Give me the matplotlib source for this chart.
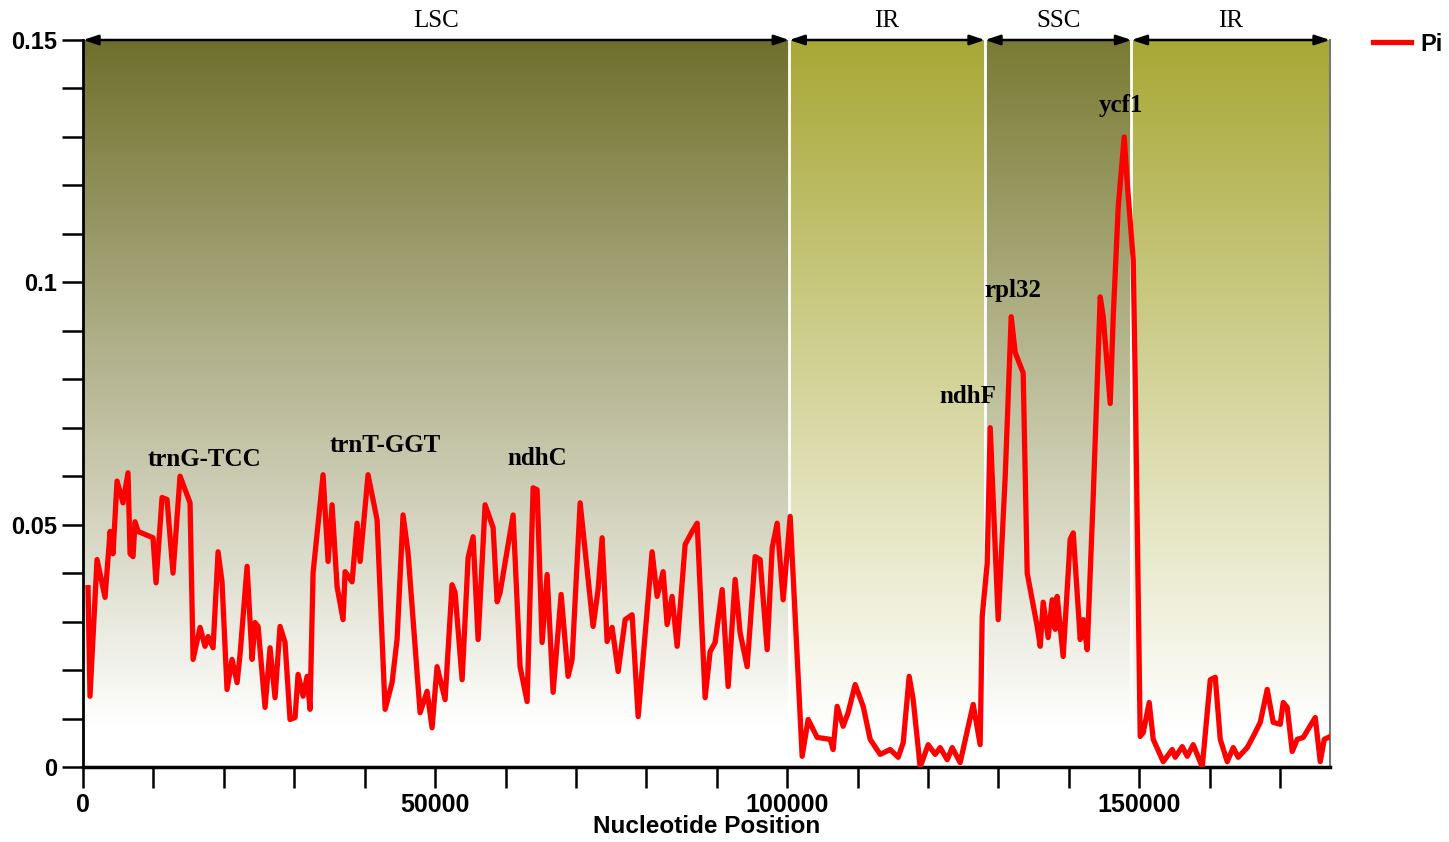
import numpy as np
import matplotlib
matplotlib.use('Agg')
import matplotlib.pyplot as plt
from matplotlib.colors import to_rgb

# sliding window nucleotide diversity (position in kb, Pi)
pos_kb = [0.71, 0.99, 1.99, 3.13, 3.84, 4.26, 4.83, 5.68, 6.39, 6.68, 7.10, 7.39, 7.81,
          9.94, 10.37, 11.22, 11.93, 12.78, 13.78, 15.20, 15.63, 16.62, 17.33, 17.76,
          18.47, 19.18, 19.74, 20.45, 21.16, 21.88, 22.30, 23.30, 24.01, 24.43, 24.86,
          25.85, 26.56, 27.27, 27.98, 28.69, 29.40, 30.11, 30.54, 31.25, 31.82, 32.24,
          32.67, 34.09, 34.80, 35.37, 36.08, 36.93, 37.22, 38.21, 38.92, 39.35, 40.48,
          41.76, 42.90, 43.89, 44.60, 45.45, 46.16, 47.87, 48.86, 49.57, 50.28, 51.42,
          52.41, 52.84, 53.84, 54.69, 55.40, 56.11, 57.10, 58.24, 58.81, 59.23, 61.08,
          62.07, 63.07, 63.92, 64.49, 65.20, 65.91, 66.76, 67.90, 68.89, 69.46, 70.60,
          72.44, 73.15, 73.72, 74.43, 75.14, 76.00, 76.99, 77.98, 78.84, 80.82, 81.53,
          82.39, 82.95, 83.66, 84.38, 85.51, 86.51, 87.22, 88.35, 89.06, 89.77, 90.77,
          91.62, 92.61, 93.32, 94.32, 95.45, 96.16, 97.16, 97.87, 98.58, 99.43, 100.43,
          102.13, 102.98, 104.26, 106.11, 106.53, 107.10, 107.95, 108.66, 109.66, 110.80,
          111.79, 113.21, 114.63, 115.77, 116.48, 117.33, 117.90, 118.89, 120.03, 121.02,
          121.73, 122.73, 123.44, 124.57, 126.42, 127.41, 127.70, 128.41, 128.84, 129.97,
          130.97, 131.82, 132.39, 133.52, 134.09, 135.51, 135.94, 136.36, 137.07, 137.64,
          138.07, 138.35, 139.20, 140.20, 140.63, 141.62, 142.05, 142.61, 143.47, 144.46,
          144.89, 145.88, 146.31, 147.02, 147.87, 148.30, 149.15, 149.43, 150.14, 150.57,
          151.42, 151.99, 153.41, 154.69, 155.11, 156.11, 156.82, 157.67, 158.95, 160.09,
          160.80, 161.51, 162.50, 163.35, 164.06, 165.34, 166.19, 167.19, 168.18, 169.03,
          170.03, 170.45, 171.02, 171.73, 172.44, 173.30, 174.57, 175.00, 175.71, 176.28,
          176.85]
pi = [0.0370, 0.0146, 0.0428, 0.0350, 0.0486, 0.0440, 0.0590, 0.0545, 0.0607, 0.0440,
      0.0434, 0.0506, 0.0486, 0.0473, 0.0380, 0.0556, 0.0552, 0.0400, 0.0600, 0.0545,
      0.0222, 0.0288, 0.0249, 0.0269, 0.0246, 0.0444, 0.0382, 0.0160, 0.0222, 0.0174,
      0.0232, 0.0414, 0.0222, 0.0298, 0.0290, 0.0123, 0.0246, 0.0143, 0.0290, 0.0257,
      0.0098, 0.0102, 0.0191, 0.0146, 0.0187, 0.0119, 0.0400, 0.0603, 0.0424, 0.0541,
      0.0372, 0.0304, 0.0403, 0.0382, 0.0503, 0.0424, 0.0603, 0.0510, 0.0119, 0.0174,
      0.0263, 0.0520, 0.0442, 0.0112, 0.0156, 0.0081, 0.0207, 0.0139, 0.0376, 0.0360,
      0.0180, 0.0432, 0.0475, 0.0263, 0.0541, 0.0494, 0.0341, 0.0360, 0.0520, 0.0207,
      0.0135, 0.0576, 0.0572, 0.0257, 0.0397, 0.0154, 0.0356, 0.0187, 0.0222, 0.0545,
      0.0290, 0.0366, 0.0473, 0.0259, 0.0288, 0.0197, 0.0304, 0.0314, 0.0104, 0.0444,
      0.0352, 0.0403, 0.0294, 0.0352, 0.0249, 0.0459, 0.0486, 0.0503, 0.0143, 0.0238,
      0.0257, 0.0366, 0.0166, 0.0387, 0.0277, 0.0207, 0.0434, 0.0428, 0.0242, 0.0452,
      0.0503, 0.0345, 0.0517, 0.0022, 0.0098, 0.0061, 0.0057, 0.0036, 0.0125, 0.0084,
      0.0112, 0.0170, 0.0125, 0.0057, 0.0026, 0.0036, 0.0020, 0.0050, 0.0187, 0.0139,
      0.0000, 0.0046, 0.0026, 0.0040, 0.0015, 0.0040, 0.0009, 0.0129, 0.0046, 0.0310,
      0.0420, 0.0700, 0.0304, 0.0600, 0.0929, 0.0855, 0.0813, 0.0400, 0.0290, 0.0249,
      0.0340, 0.0267, 0.0345, 0.0284, 0.0352, 0.0228, 0.0470, 0.0483, 0.0263, 0.0304,
      0.0242, 0.0558, 0.0970, 0.0929, 0.0750, 0.0929, 0.1156, 0.1300, 0.1205, 0.1046,
      0.0800, 0.0063, 0.0071, 0.0133, 0.0057, 0.0011, 0.0036, 0.0020, 0.0042, 0.0022,
      0.0046, 0.0000, 0.0180, 0.0185, 0.0057, 0.0011, 0.0040, 0.0020, 0.0040, 0.0063,
      0.0092, 0.0160, 0.0092, 0.0088, 0.0133, 0.0123, 0.0032, 0.0057, 0.0061, 0.0092,
      0.0102, 0.0011, 0.0057, 0.0061]

regions = ["LSC", "IR", "SSC", "IR"]
bounds_kb = [0, 100.3, 128.1, 148.9, 177.1]
region_colors = ["#70702c", "#a8a836", "#7a7b33", "#a8a836"]

genes = ["trnG-TCC", "trnT-GGT", "ndhC", "ndhF", "rpl32", "ycf1"]
gene_x_kb = [17.3, 42.9, 64.5, 125.7, 132.1, 147.4]
gene_y = [0.0634, 0.0663, 0.0636, 0.0764, 0.0983, 0.1364]

pos = np.array(pos_kb) * 1000
bounds = np.array(bounds_kb) * 1000
ymax = 0.15
yfade = 0.008

fig = plt.figure(figsize=(14.49, 8.42), dpi=100)
ax = fig.add_axes([0.0573, 0.0891, 0.8606, 0.8634])

# vertical gradient backgrounds for each region
ys = np.linspace(ymax, 0, 400)
frac = np.clip((ys - yfade) / (ymax - yfade), 0, 1)
for x0, x1, c in zip(bounds[:-1], bounds[1:], region_colors):
    top = np.array(to_rgb(c))
    img = 1 - frac[:, None] * (1 - top[None, :])
    ax.imshow(img[:, None, :], extent=[x0, x1, 0, ymax], aspect='auto',
              origin='upper', interpolation='bilinear', zorder=0)
for b in bounds[1:-1]:
    ax.plot([b, b], [0, ymax], color='white', lw=2, zorder=1)

ax.plot(pos, pi, color='#ff0000', lw=3.8, label='Pi', zorder=3, solid_joinstyle='round')

# region arrows and names along the top
for x0, x1, name in zip(bounds[:-1], bounds[1:], regions):
    ax.annotate('', xy=(x1, ymax), xytext=(x0, ymax), xycoords='data',
                arrowprops=dict(arrowstyle='<|-|>,head_length=0.9,head_width=0.3',
                                color='black', lw=1.8, shrinkA=0, shrinkB=0),
                annotation_clip=False, zorder=5)
    ax.text((x0 + x1) / 2, ymax + 0.0016, name, ha='center', va='bottom',
            fontsize=18, family='Liberation Serif')

for g, gx, gy in zip(genes, gene_x_kb, gene_y):
    ax.text(gx * 1000, gy, g, ha='center', va='center', fontsize=18,
            family='Liberation Serif', fontweight='bold', zorder=4)

ax.set_xlim(0, bounds[-1])
ax.set_ylim(0, ymax)
ax.set_xticks([0, 50000, 100000, 150000])
ax.set_xticks(np.arange(0, 177000, 10000), minor=True)
ax.set_yticks([0, 0.05, 0.1, 0.15])
ax.set_yticklabels(['0', '0.05', '0.1', '0.15'])
ax.set_yticks(np.arange(0, 0.15, 0.01), minor=True)
ax.tick_params(which='both', direction='out', length=15, width=1.8, color='black')
ax.tick_params(axis='x', pad=4)
for lab in ax.get_xticklabels():
    lab.set_family('Liberation Sans')
    lab.set_fontweight('bold')
    lab.set_fontsize(18)
for lab in ax.get_yticklabels():
    lab.set_family('Liberation Sans')
    lab.set_fontweight('bold')
    lab.set_fontsize(17)
ax.set_xlabel('Nucleotide Position', fontsize=17.5, fontweight='bold',
              family='Liberation Sans', labelpad=-2)

ax.spines['top'].set_visible(False)
ax.spines['left'].set_linewidth(2)
ax.spines['bottom'].set_linewidth(2.5)
ax.spines['right'].set_color('#777777')
ax.spines['right'].set_linewidth(1.5)

leg = ax.legend(loc='upper left', bbox_to_anchor=(1.021, 1.033), frameon=False,
                handlelength=1.6, handletextpad=0.4, borderaxespad=0.3,
                prop={'family': 'Liberation Sans', 'weight': 'bold', 'size': 17})

fig.savefig('out.png', dpi=100)
